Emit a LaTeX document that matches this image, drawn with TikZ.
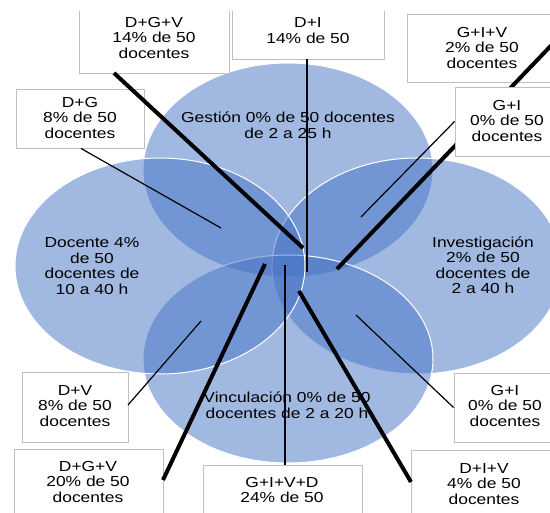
\documentclass[tikz,border=0pt]{standalone}
\usepackage{fontspec}
\setmainfont{Liberation Sans}[FakeStretch=1.2]
\usetikzlibrary{calc}
\definecolor{vennblue}{RGB}{68,114,196}
\definecolor{boxgray}{RGB}{191,191,191}
\begin{document}
\begin{tikzpicture}[x=1pt,y=-1pt,
  lbl/.style={align=center,inner sep=0pt,font=\fontsize{14.5}{15.5}\selectfont},
  box/.style={draw=boxgray,fill=white,line width=0.9pt,inner sep=0pt},
  thinc/.style={line width=1.2pt},
  thickc/.style={line width=4pt},
  venn/.style={fill=vennblue,fill opacity=0.5,draw=white,line width=1pt}]
\useasboundingbox (0,0) rectangle (550,513);
\clip (0,0) rectangle (550,513);
% ellipses
\path[venn] (288,170) ellipse [x radius=145pt,y radius=107pt];
\path[venn] (417,266) ellipse [x radius=145pt,y radius=108pt];
\path[venn] (288,359) ellipse [x radius=145pt,y radius=104pt];
\path[venn] (160,266) ellipse [x radius=145pt,y radius=108pt];
% ellipse labels
\node[lbl] (lG) at (288,125) {Gestión 0\% de 50 docentes\\de 2 a 25 h};
\node[lbl] (lD) at (92,266) {Docente 4\%\\de 50\\docentes de\\10 a 40 h};
\node[lbl] (lI) at (483,265) {Investigación\\2\% de 50\\docentes de\\2 a 40 h};
\node[lbl] (lV) at (287,405) {Vinculación 0\% de 50\\docentes de 2 a 20 h};
% G+I+V box (under its connector)
\node[box,minimum width=163pt,minimum height=68pt] (bGIV) at (488.5,48) {};
\node[lbl] (tGIV) at (482,48) {G+I+V\\2\% de 50\\docentes};
% coordinates
\coordinate (pDG) at (221,228);
\coordinate (pDI) at (307,272);
\coordinate (pGIt) at (361,217);
\coordinate (sDV) at (128,405);
\coordinate (pDV) at (201,321);
\coordinate (pGIVD) at (285,265);
\coordinate (pGIb) at (356,315);
\coordinate (sDGVt) at (114,73);
\coordinate (pDGVt) at (303,248);
\coordinate (sGIV) at (566,30);
\coordinate (pGIV) at (337,269);
\coordinate (sDGVb) at (163,480);
\coordinate (pDGVb) at (265,264);
\coordinate (sDIV) at (411,482);
\coordinate (pDIV) at (299,291);
% other boxes
\node[box,minimum width=150pt,minimum height=78pt] (bDGVt) at (154,34) {};
\node[box,minimum width=152pt,minimum height=64pt] (bDI) at (308,27) {};
\node[box,minimum width=128pt,minimum height=59pt] (bDG) at (80,118.5) {};
\node[box,minimum width=106pt,minimum height=70pt] (bDV) at (75,407) {};
\node[box,minimum width=149pt,minimum height=81pt] (bDGVb) at (88.5,489.5) {};
\node[box,minimum width=159pt,minimum height=65pt] (bGIVD) at (282.5,497.5) {};
\node[box,minimum width=116pt,minimum height=69pt] (bGIb) at (512,407.5) {};
\node[box,minimum width=159pt,minimum height=80pt] (bDIV) at (490.5,490) {};
% connectors
\draw[thinc] ($(bDG.south)+(1,0)$) -- (pDG);
\draw[thinc] (pDI |- bDI.south) -- (pDI);
\draw[thinc] (sDV) -- (pDV);
\draw[thinc] (pGIVD |- bGIVD.north) -- (pGIVD);
\draw[thinc] (bGIb.west) -- (pGIb);
\draw[thickc] (sDGVt) -- (pDGVt);
\draw[thickc] (sGIV) -- (pGIV);
\draw[thickc] (sDGVb) -- (pDGVb);
\draw[thickc] (sDIV) -- (pDIV);
% G+I top box above the thick line
\node[box,minimum width=115pt,minimum height=69pt] (bGIt) at (512.5,121.5) {};
\draw[thinc] (bGIt.west) -- (pGIt);
% box texts
\node[lbl] (tDGVt) at (154,38) {D+G+V\\14\% de 50\\docentes};
\node[lbl] (tDI) at (308,30.5) {D+I\\14\% de 50};
\node[lbl] (tGIt) at (507,121) {G+I\\0\% de 50\\docentes};
\node[lbl] (tDG) at (80,118) {D+G\\8\% de 50\\docentes};
\node[lbl] (tDV) at (75,406) {D+V\\8\% de 50\\docentes};
\node[lbl] (tDGVb) at (88,482) {D+G+V\\20\% de 50\\docentes};
\node[lbl] (tGIVD) at (282,490) {G+I+V+D\\24\% de 50};
\node[lbl] (tGIb) at (505,406) {G+I\\0\% de 50\\docentes};
\node[lbl] (tDIV) at (484,484) {D+I+V\\4\% de 50\\docentes};
% white top margin
\fill[white] (0,0) rectangle (550,11);
\end{tikzpicture}
\end{document}
